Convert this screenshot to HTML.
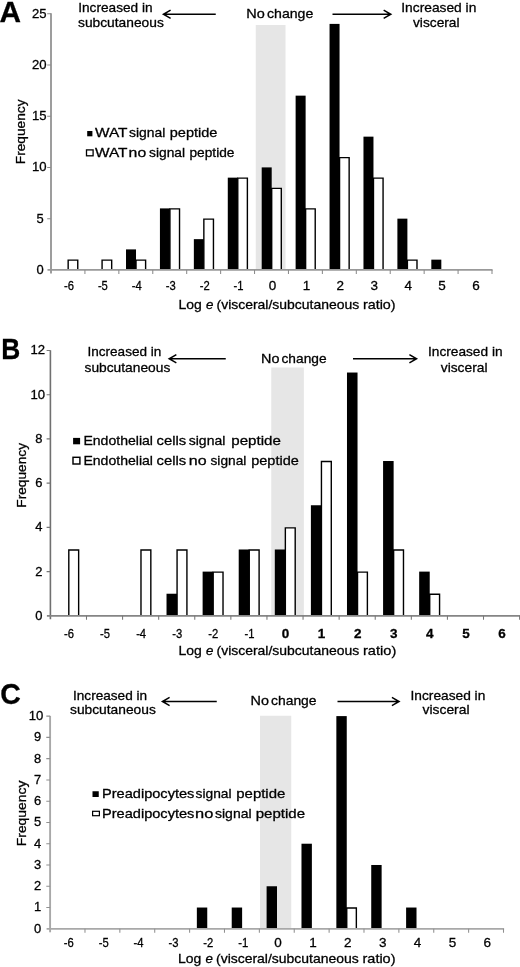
<!DOCTYPE html>
<html><head><meta charset="utf-8"><title>Figure</title>
<style>
html,body{margin:0;padding:0;background:#fff;}
text{stroke:#000;stroke-width:0.3px;}
svg{display:block;will-change:transform;filter:grayscale(1);font-family:"Liberation Sans", sans-serif;fill:#000;}
</style></head><body>
<svg width="520" height="967" viewBox="0 0 520 967">
<rect width="520" height="967" fill="#fff"/>
<rect x="255.75" y="25" width="29.75" height="244.89999999999998" fill="#e6e6e6"/>
<path d="M68.16 269.9V260.15H77.76V269.9" fill="#fff" stroke="#000" stroke-width="1.4"/>
<path d="M102.08 269.9V260.15H111.68V269.9" fill="#fff" stroke="#000" stroke-width="1.4"/>
<path d="M136.01 269.9V260.15H145.61V269.9" fill="#fff" stroke="#000" stroke-width="1.4"/>
<rect x="126.01" y="249.40" width="10.00" height="20.50" fill="#000"/>
<path d="M169.93 269.9V208.90H179.53V269.9" fill="#fff" stroke="#000" stroke-width="1.4"/>
<rect x="159.93" y="208.40" width="10.00" height="61.50" fill="#000"/>
<path d="M203.85 269.9V219.15H213.45V269.9" fill="#fff" stroke="#000" stroke-width="1.4"/>
<rect x="193.85" y="239.15" width="10.00" height="30.75" fill="#000"/>
<path d="M237.78 269.9V178.15H247.38V269.9" fill="#fff" stroke="#000" stroke-width="1.4"/>
<rect x="227.78" y="177.65" width="10.00" height="92.25" fill="#000"/>
<path d="M271.70 269.9V188.40H281.30V269.9" fill="#fff" stroke="#000" stroke-width="1.4"/>
<rect x="261.70" y="167.40" width="10.00" height="102.50" fill="#000"/>
<path d="M305.62 269.9V208.90H315.22V269.9" fill="#fff" stroke="#000" stroke-width="1.4"/>
<rect x="295.62" y="95.65" width="10.00" height="174.25" fill="#000"/>
<path d="M339.55 269.9V157.65H349.15V269.9" fill="#fff" stroke="#000" stroke-width="1.4"/>
<rect x="329.55" y="23.90" width="10.00" height="246.00" fill="#000"/>
<path d="M373.47 269.9V178.15H383.07V269.9" fill="#fff" stroke="#000" stroke-width="1.4"/>
<rect x="363.47" y="136.65" width="10.00" height="133.25" fill="#000"/>
<path d="M407.39 269.9V260.15H416.99V269.9" fill="#fff" stroke="#000" stroke-width="1.4"/>
<rect x="397.39" y="218.65" width="10.00" height="51.25" fill="#000"/>
<rect x="431.32" y="259.65" width="10.00" height="10.25" fill="#000"/>
<path d="M51 13.2V273.4" fill="none" stroke="#858585" stroke-width="1.6"/>
<path d="M47.5 269.9H492.6" fill="none" stroke="#999" stroke-width="1.7"/>
<path d="M47.2 218.65H51M47.2 167.40H51M47.2 116.15H51M47.2 64.90H51M47.2 13.65H51M84.92 269.9V273.9M118.85 269.9V273.9M152.77 269.9V273.9M186.69 269.9V273.9M220.62 269.9V273.9M254.54 269.9V273.9M288.46 269.9V273.9M322.38 269.9V273.9M356.31 269.9V273.9M390.23 269.9V273.9M424.15 269.9V273.9M458.08 269.9V273.9M492.00 269.9V273.9" fill="none" stroke="#8c8c8c" stroke-width="1.05"/>
<text x="40.2" y="273.80" font-size="13.5" text-anchor="middle" textLength="7.2" lengthAdjust="spacingAndGlyphs">0</text>
<text x="40.2" y="222.55" font-size="13.5" text-anchor="middle" textLength="7.2" lengthAdjust="spacingAndGlyphs">5</text>
<text x="39.2" y="171.30" font-size="13.5" text-anchor="middle" textLength="14.6" lengthAdjust="spacingAndGlyphs">10</text>
<text x="39.2" y="120.05" font-size="13.5" text-anchor="middle" textLength="14.6" lengthAdjust="spacingAndGlyphs">15</text>
<text x="39.2" y="68.80" font-size="13.5" text-anchor="middle" textLength="14.6" lengthAdjust="spacingAndGlyphs">20</text>
<text x="39.2" y="17.55" font-size="13.5" text-anchor="middle" textLength="14.6" lengthAdjust="spacingAndGlyphs">25</text>
<text x="68.96" y="289.9" font-size="13.5" text-anchor="middle" textLength="10" lengthAdjust="spacingAndGlyphs">-6</text>
<text x="102.88" y="289.9" font-size="13.5" text-anchor="middle" textLength="10" lengthAdjust="spacingAndGlyphs">-5</text>
<text x="136.81" y="289.9" font-size="13.5" text-anchor="middle" textLength="10" lengthAdjust="spacingAndGlyphs">-4</text>
<text x="170.73" y="289.9" font-size="13.5" text-anchor="middle" textLength="10" lengthAdjust="spacingAndGlyphs">-3</text>
<text x="204.65" y="289.9" font-size="13.5" text-anchor="middle" textLength="10" lengthAdjust="spacingAndGlyphs">-2</text>
<text x="238.58" y="289.9" font-size="13.5" text-anchor="middle" textLength="10" lengthAdjust="spacingAndGlyphs">-1</text>
<text x="272.50" y="289.9" font-size="13.5" text-anchor="middle" textLength="7.5" lengthAdjust="spacingAndGlyphs">0</text>
<text x="306.42" y="289.9" font-size="13.5" text-anchor="middle" textLength="7.5" lengthAdjust="spacingAndGlyphs">1</text>
<text x="340.35" y="289.9" font-size="13.5" text-anchor="middle" textLength="7.5" lengthAdjust="spacingAndGlyphs">2</text>
<text x="374.27" y="289.9" font-size="13.5" text-anchor="middle" textLength="7.5" lengthAdjust="spacingAndGlyphs">3</text>
<text x="408.19" y="289.9" font-size="13.5" text-anchor="middle" textLength="7.5" lengthAdjust="spacingAndGlyphs">4</text>
<text x="442.12" y="289.9" font-size="13.5" text-anchor="middle" textLength="7.5" lengthAdjust="spacingAndGlyphs">5</text>
<text x="476.04" y="289.9" font-size="13.5" text-anchor="middle" textLength="7.5" lengthAdjust="spacingAndGlyphs">6</text>
<text x="178.4" y="309" font-size="13.5" textLength="23.3" lengthAdjust="spacingAndGlyphs">Log</text>
<text x="205.9" y="309" font-size="13.5" textLength="7.4" lengthAdjust="spacingAndGlyphs" font-style="italic">e</text>
<text x="216.5" y="309" font-size="13.5" textLength="142.75" lengthAdjust="spacingAndGlyphs">(visceral/subcutaneous</text>
<text x="363.0" y="309" font-size="13.5" textLength="32.60000000000002" lengthAdjust="spacingAndGlyphs">ratio)</text>
<text transform="translate(25.1 164.2) rotate(-90)" font-size="13.5" textLength="64.79999999999998" lengthAdjust="spacingAndGlyphs">Frequency</text>
<text x="-0.5" y="22.3" font-size="29.5" textLength="21.5" lengthAdjust="spacingAndGlyphs" font-weight="bold">A</text>
<text x="78.25" y="12" font-size="13.5" textLength="74.3" lengthAdjust="spacingAndGlyphs">Increased in</text>
<text x="78" y="27" font-size="13.5" textLength="85.8" lengthAdjust="spacingAndGlyphs">subcutaneous</text>
<text x="401.25" y="12" font-size="13.5" textLength="75.05" lengthAdjust="spacingAndGlyphs">Increased in</text>
<text x="413" y="27" font-size="13.5" textLength="46.55" lengthAdjust="spacingAndGlyphs">visceral</text>
<text x="246.3" y="18" font-size="13.5" textLength="18.5" lengthAdjust="spacingAndGlyphs">No</text>
<text x="267" y="18" font-size="13.5" textLength="46.3" lengthAdjust="spacingAndGlyphs">change</text>
<text x="95.0" y="137" font-size="13.5" textLength="32.5" lengthAdjust="spacingAndGlyphs">WAT</text>
<text x="129" y="137" font-size="13.5" textLength="36.3" lengthAdjust="spacingAndGlyphs">signal</text>
<text x="169.75" y="137" font-size="13.5" textLength="47.65" lengthAdjust="spacingAndGlyphs">peptide</text>
<text x="95.0" y="156.6" font-size="13.5" textLength="32.5" lengthAdjust="spacingAndGlyphs">WAT</text>
<text x="128.6" y="156.6" font-size="13.5" textLength="17.6" lengthAdjust="spacingAndGlyphs">no</text>
<text x="149" y="156.6" font-size="13.5" textLength="36.05" lengthAdjust="spacingAndGlyphs">signal</text>
<text x="189.5" y="156.6" font-size="13.5" textLength="44.9" lengthAdjust="spacingAndGlyphs">peptide</text>
<path d="M215.75 14.25H163M170.6 10.15L163.4 14.25L170.6 18.35" fill="none" stroke="#000" stroke-width="1.45"/>
<path d="M332.5 14.25H391.25M383.65 10.15L390.85 14.25L383.65 18.35" fill="none" stroke="#000" stroke-width="1.45"/>
<rect x="87.2" y="131" width="5.2" height="5.3" fill="#000"/>
<rect x="86.5" y="149.9" width="6.6" height="5.9" fill="#fff" stroke="#000" stroke-width="1.3"/>
<rect x="271.25" y="367.5" width="32.60000000000002" height="248.35000000000002" fill="#e6e6e6"/>
<path d="M68.80 615.85V549.99H78.65V615.85" fill="#fff" stroke="#000" stroke-width="1.4"/>
<path d="M140.98 615.85V549.99H150.83V615.85" fill="#fff" stroke="#000" stroke-width="1.4"/>
<path d="M177.07 615.85V549.99H186.92V615.85" fill="#fff" stroke="#000" stroke-width="1.4"/>
<rect x="166.52" y="593.73" width="10.55" height="22.12" fill="#000"/>
<path d="M213.17 615.85V572.11H223.02V615.85" fill="#fff" stroke="#000" stroke-width="1.4"/>
<rect x="202.62" y="571.61" width="10.55" height="44.24" fill="#000"/>
<path d="M249.26 615.85V549.99H259.11V615.85" fill="#fff" stroke="#000" stroke-width="1.4"/>
<rect x="238.71" y="549.49" width="10.55" height="66.36" fill="#000"/>
<path d="M285.35 615.85V527.87H295.20V615.85" fill="#fff" stroke="#000" stroke-width="1.4"/>
<rect x="274.80" y="549.49" width="10.55" height="66.36" fill="#000"/>
<path d="M321.44 615.85V461.51H331.29V615.85" fill="#fff" stroke="#000" stroke-width="1.4"/>
<rect x="310.89" y="505.25" width="10.55" height="110.60" fill="#000"/>
<path d="M357.53 615.85V572.11H367.38V615.85" fill="#fff" stroke="#000" stroke-width="1.4"/>
<rect x="346.98" y="372.53" width="10.55" height="243.32" fill="#000"/>
<path d="M393.63 615.85V549.99H403.48V615.85" fill="#fff" stroke="#000" stroke-width="1.4"/>
<rect x="383.08" y="461.01" width="10.55" height="154.84" fill="#000"/>
<path d="M429.72 615.85V594.23H439.57V615.85" fill="#fff" stroke="#000" stroke-width="1.4"/>
<rect x="419.17" y="571.61" width="10.55" height="44.24" fill="#000"/>
<path d="M50.4 350.2V619.35" fill="none" stroke="#707070" stroke-width="1.6"/>
<path d="M46.9 615.85H520.2" fill="none" stroke="#858585" stroke-width="1.7"/>
<path d="M46.6 571.61H50.4M46.6 527.37H50.4M46.6 483.13H50.4M46.6 438.89H50.4M46.6 394.65H50.4M46.6 350.41H50.4M86.49 615.85V619.85M122.58 615.85V619.85M158.68 615.85V619.85M194.77 615.85V619.85M230.86 615.85V619.85M266.95 615.85V619.85M303.05 615.85V619.85M339.14 615.85V619.85M375.23 615.85V619.85M411.32 615.85V619.85M447.42 615.85V619.85M483.51 615.85V619.85M519.60 615.85V619.85" fill="none" stroke="#777" stroke-width="1.05"/>
<text x="38.9" y="619.75" font-size="13.5" text-anchor="middle" textLength="7.2" lengthAdjust="spacingAndGlyphs">0</text>
<text x="38.9" y="575.51" font-size="13.5" text-anchor="middle" textLength="7.2" lengthAdjust="spacingAndGlyphs">2</text>
<text x="38.9" y="531.27" font-size="13.5" text-anchor="middle" textLength="7.2" lengthAdjust="spacingAndGlyphs">4</text>
<text x="38.9" y="487.03" font-size="13.5" text-anchor="middle" textLength="7.2" lengthAdjust="spacingAndGlyphs">6</text>
<text x="38.9" y="442.79" font-size="13.5" text-anchor="middle" textLength="7.2" lengthAdjust="spacingAndGlyphs">8</text>
<text x="37.7" y="398.55" font-size="13.5" text-anchor="middle" textLength="14.6" lengthAdjust="spacingAndGlyphs">10</text>
<text x="37.7" y="354.31" font-size="13.5" text-anchor="middle" textLength="14.6" lengthAdjust="spacingAndGlyphs">12</text>
<text x="68.95" y="638.2" font-size="13.5" text-anchor="middle" textLength="10" lengthAdjust="spacingAndGlyphs">-6</text>
<text x="105.04" y="638.2" font-size="13.5" text-anchor="middle" textLength="10" lengthAdjust="spacingAndGlyphs">-5</text>
<text x="141.13" y="638.2" font-size="13.5" text-anchor="middle" textLength="10" lengthAdjust="spacingAndGlyphs">-4</text>
<text x="177.22" y="638.2" font-size="13.5" text-anchor="middle" textLength="10" lengthAdjust="spacingAndGlyphs">-3</text>
<text x="213.32" y="638.2" font-size="13.5" text-anchor="middle" textLength="10" lengthAdjust="spacingAndGlyphs">-2</text>
<text x="249.41" y="638.2" font-size="13.5" text-anchor="middle" textLength="10" lengthAdjust="spacingAndGlyphs">-1</text>
<text x="285.50" y="638.2" font-size="13.5" text-anchor="middle" textLength="7.5" lengthAdjust="spacingAndGlyphs" font-weight="bold">0</text>
<text x="321.59" y="638.2" font-size="13.5" text-anchor="middle" textLength="7.5" lengthAdjust="spacingAndGlyphs" font-weight="bold">1</text>
<text x="357.68" y="638.2" font-size="13.5" text-anchor="middle" textLength="7.5" lengthAdjust="spacingAndGlyphs" font-weight="bold">2</text>
<text x="393.78" y="638.2" font-size="13.5" text-anchor="middle" textLength="7.5" lengthAdjust="spacingAndGlyphs" font-weight="bold">3</text>
<text x="429.87" y="638.2" font-size="13.5" text-anchor="middle" textLength="7.5" lengthAdjust="spacingAndGlyphs" font-weight="bold">4</text>
<text x="465.96" y="638.2" font-size="13.5" text-anchor="middle" textLength="7.5" lengthAdjust="spacingAndGlyphs" font-weight="bold">5</text>
<text x="502.05" y="638.2" font-size="13.5" text-anchor="middle" textLength="7.5" lengthAdjust="spacingAndGlyphs" font-weight="bold">6</text>
<text x="178.4" y="655" font-size="13.5" textLength="23.3" lengthAdjust="spacingAndGlyphs">Log</text>
<text x="205.9" y="655" font-size="13.5" textLength="7.4" lengthAdjust="spacingAndGlyphs" font-style="italic">e</text>
<text x="216.5" y="655" font-size="13.5" textLength="142.75" lengthAdjust="spacingAndGlyphs">(visceral/subcutaneous</text>
<text x="363.0" y="655" font-size="13.5" textLength="33.25" lengthAdjust="spacingAndGlyphs">ratio)</text>
<text transform="translate(25.5 507.7) rotate(-90)" font-size="13.5" textLength="64.69999999999999" lengthAdjust="spacingAndGlyphs">Frequency</text>
<text x="1.2" y="359" font-size="29.5" textLength="19" lengthAdjust="spacingAndGlyphs" font-weight="bold">B</text>
<text x="87.5" y="356.25" font-size="13.5" textLength="73.8" lengthAdjust="spacingAndGlyphs">Increased in</text>
<text x="84.5" y="371.75" font-size="13.5" textLength="85.8" lengthAdjust="spacingAndGlyphs">subcutaneous</text>
<text x="428" y="356.25" font-size="13.5" textLength="74.55" lengthAdjust="spacingAndGlyphs">Increased in</text>
<text x="440.75" y="371.75" font-size="13.5" textLength="46.8" lengthAdjust="spacingAndGlyphs">visceral</text>
<text x="261.0" y="362.5" font-size="13.5" textLength="18.4" lengthAdjust="spacingAndGlyphs">No</text>
<text x="281.5" y="362.5" font-size="13.5" textLength="45.05" lengthAdjust="spacingAndGlyphs">change</text>
<text x="83.4" y="444.5" font-size="13.5" textLength="69.6" lengthAdjust="spacingAndGlyphs">Endothelial</text>
<text x="156.6" y="444.5" font-size="13.5" textLength="29.6" lengthAdjust="spacingAndGlyphs">cells</text>
<text x="188.75" y="444.5" font-size="13.5" textLength="36.55" lengthAdjust="spacingAndGlyphs">signal</text>
<text x="231.25" y="444.5" font-size="13.5" textLength="49.55" lengthAdjust="spacingAndGlyphs">peptide</text>
<text x="83.4" y="465" font-size="13.5" textLength="69.6" lengthAdjust="spacingAndGlyphs">Endothelial</text>
<text x="156.6" y="465" font-size="13.5" textLength="29.6" lengthAdjust="spacingAndGlyphs">cells</text>
<text x="188.75" y="465" font-size="13.5" textLength="17.8" lengthAdjust="spacingAndGlyphs">no</text>
<text x="210.5" y="465" font-size="13.5" textLength="35.8" lengthAdjust="spacingAndGlyphs">signal</text>
<text x="251.25" y="465" font-size="13.5" textLength="47.55" lengthAdjust="spacingAndGlyphs">peptide</text>
<path d="M225.75 358.75H168.75M176.35 354.65L169.15 358.75L176.35 362.85" fill="none" stroke="#000" stroke-width="1.45"/>
<path d="M353 358.75H417M409.4 354.65L416.6 358.75L409.4 362.85" fill="none" stroke="#000" stroke-width="1.45"/>
<rect x="73.1" y="437.9" width="7" height="6.4" fill="#000"/>
<rect x="73.0" y="457.3" width="6.9" height="6.7" fill="#fff" stroke="#000" stroke-width="1.45"/>
<rect x="260" y="715.75" width="31.25" height="213.04999999999995" fill="#e6e6e6"/>
<rect x="196.85" y="907.53" width="10.40" height="21.27" fill="#000"/>
<rect x="231.72" y="907.53" width="10.40" height="21.27" fill="#000"/>
<rect x="266.60" y="886.26" width="10.40" height="42.54" fill="#000"/>
<rect x="301.48" y="843.72" width="10.40" height="85.08" fill="#000"/>
<path d="M346.75 928.8V908.03H356.35V928.8" fill="#fff" stroke="#000" stroke-width="1.4"/>
<rect x="336.35" y="716.10" width="10.40" height="212.70" fill="#000"/>
<rect x="371.23" y="864.99" width="10.40" height="63.81" fill="#000"/>
<rect x="406.11" y="907.53" width="10.40" height="21.27" fill="#000"/>
<path d="M50.1 715.9V932.3" fill="none" stroke="#a8a8a8" stroke-width="1.9"/>
<path d="M46.6 928.8H504.1" fill="none" stroke="#a8a8a8" stroke-width="1.7"/>
<path d="M46.300000000000004 907.53H50.1M46.300000000000004 886.26H50.1M46.300000000000004 864.99H50.1M46.300000000000004 843.72H50.1M46.300000000000004 822.45H50.1M46.300000000000004 801.18H50.1M46.300000000000004 779.91H50.1M46.300000000000004 758.64H50.1M46.300000000000004 737.37H50.1M46.300000000000004 716.10H50.1M84.98 928.8V932.8M119.85 928.8V932.8M154.73 928.8V932.8M189.61 928.8V932.8M224.48 928.8V932.8M259.36 928.8V932.8M294.24 928.8V932.8M329.12 928.8V932.8M363.99 928.8V932.8M398.87 928.8V932.8M433.75 928.8V932.8M468.62 928.8V932.8M503.50 928.8V932.8" fill="none" stroke="#909090" stroke-width="1.05"/>
<text x="37.5" y="932.70" font-size="13.5" text-anchor="middle" textLength="7.2" lengthAdjust="spacingAndGlyphs">0</text>
<text x="37.5" y="911.43" font-size="13.5" text-anchor="middle" textLength="7.2" lengthAdjust="spacingAndGlyphs">1</text>
<text x="37.5" y="890.16" font-size="13.5" text-anchor="middle" textLength="7.2" lengthAdjust="spacingAndGlyphs">2</text>
<text x="37.5" y="868.89" font-size="13.5" text-anchor="middle" textLength="7.2" lengthAdjust="spacingAndGlyphs">3</text>
<text x="37.5" y="847.62" font-size="13.5" text-anchor="middle" textLength="7.2" lengthAdjust="spacingAndGlyphs">4</text>
<text x="37.5" y="826.35" font-size="13.5" text-anchor="middle" textLength="7.2" lengthAdjust="spacingAndGlyphs">5</text>
<text x="37.5" y="805.08" font-size="13.5" text-anchor="middle" textLength="7.2" lengthAdjust="spacingAndGlyphs">6</text>
<text x="37.5" y="783.81" font-size="13.5" text-anchor="middle" textLength="7.2" lengthAdjust="spacingAndGlyphs">7</text>
<text x="37.5" y="762.54" font-size="13.5" text-anchor="middle" textLength="7.2" lengthAdjust="spacingAndGlyphs">8</text>
<text x="37.5" y="741.27" font-size="13.5" text-anchor="middle" textLength="7.2" lengthAdjust="spacingAndGlyphs">9</text>
<text x="36.1" y="720.00" font-size="13.5" text-anchor="middle" textLength="14.6" lengthAdjust="spacingAndGlyphs">10</text>
<text x="68.84" y="947.0" font-size="13.5" text-anchor="middle" textLength="10" lengthAdjust="spacingAndGlyphs">-6</text>
<text x="103.72" y="947.0" font-size="13.5" text-anchor="middle" textLength="10" lengthAdjust="spacingAndGlyphs">-5</text>
<text x="138.59" y="947.0" font-size="13.5" text-anchor="middle" textLength="10" lengthAdjust="spacingAndGlyphs">-4</text>
<text x="173.47" y="947.0" font-size="13.5" text-anchor="middle" textLength="10" lengthAdjust="spacingAndGlyphs">-3</text>
<text x="208.35" y="947.0" font-size="13.5" text-anchor="middle" textLength="10" lengthAdjust="spacingAndGlyphs">-2</text>
<text x="243.22" y="947.0" font-size="13.5" text-anchor="middle" textLength="10" lengthAdjust="spacingAndGlyphs">-1</text>
<text x="278.10" y="947.0" font-size="13.5" text-anchor="middle" textLength="7.5" lengthAdjust="spacingAndGlyphs">0</text>
<text x="312.98" y="947.0" font-size="13.5" text-anchor="middle" textLength="7.5" lengthAdjust="spacingAndGlyphs">1</text>
<text x="347.85" y="947.0" font-size="13.5" text-anchor="middle" textLength="7.5" lengthAdjust="spacingAndGlyphs">2</text>
<text x="382.73" y="947.0" font-size="13.5" text-anchor="middle" textLength="7.5" lengthAdjust="spacingAndGlyphs">3</text>
<text x="417.61" y="947.0" font-size="13.5" text-anchor="middle" textLength="7.5" lengthAdjust="spacingAndGlyphs">4</text>
<text x="452.48" y="947.0" font-size="13.5" text-anchor="middle" textLength="7.5" lengthAdjust="spacingAndGlyphs">5</text>
<text x="487.36" y="947.0" font-size="13.5" text-anchor="middle" textLength="7.5" lengthAdjust="spacingAndGlyphs">6</text>
<text x="177.9" y="963.25" font-size="13.5" textLength="23.3" lengthAdjust="spacingAndGlyphs">Log</text>
<text x="205.4" y="963.25" font-size="13.5" textLength="7.4" lengthAdjust="spacingAndGlyphs" font-style="italic">e</text>
<text x="216.0" y="963.25" font-size="13.5" textLength="142.75" lengthAdjust="spacingAndGlyphs">(visceral/subcutaneous</text>
<text x="362.5" y="963.25" font-size="13.5" textLength="33.0" lengthAdjust="spacingAndGlyphs">ratio)</text>
<text transform="translate(25.5 846.2) rotate(-90)" font-size="13.5" textLength="65.60000000000002" lengthAdjust="spacingAndGlyphs">Frequency</text>
<text x="0.3" y="704" font-size="29.5" textLength="20.5" lengthAdjust="spacingAndGlyphs" font-weight="bold">C</text>
<text x="73" y="699.5" font-size="13.5" textLength="74.05" lengthAdjust="spacingAndGlyphs">Increased in</text>
<text x="70" y="714.25" font-size="13.5" textLength="85.8" lengthAdjust="spacingAndGlyphs">subcutaneous</text>
<text x="410.5" y="699.5" font-size="13.5" textLength="74.8" lengthAdjust="spacingAndGlyphs">Increased in</text>
<text x="422.5" y="714.25" font-size="13.5" textLength="47.05" lengthAdjust="spacingAndGlyphs">visceral</text>
<text x="250.5" y="705" font-size="13.5" textLength="18.4" lengthAdjust="spacingAndGlyphs">No</text>
<text x="271" y="705" font-size="13.5" textLength="45.55" lengthAdjust="spacingAndGlyphs">change</text>
<text x="102" y="797.5" font-size="13.5" textLength="92.4" lengthAdjust="spacingAndGlyphs">Preadipocytes</text>
<text x="195.5" y="797.5" font-size="13.5" textLength="36.05" lengthAdjust="spacingAndGlyphs">signal</text>
<text x="236.25" y="797.5" font-size="13.5" textLength="49.05" lengthAdjust="spacingAndGlyphs">peptide</text>
<text x="102" y="818" font-size="13.5" textLength="92.4" lengthAdjust="spacingAndGlyphs">Preadipocytes</text>
<text x="195" y="818" font-size="13.5" textLength="18.3" lengthAdjust="spacingAndGlyphs">no</text>
<text x="215" y="818" font-size="13.5" textLength="36.55" lengthAdjust="spacingAndGlyphs">signal</text>
<text x="255.75" y="818" font-size="13.5" textLength="49.3" lengthAdjust="spacingAndGlyphs">peptide</text>
<path d="M216.75 701.5H162M169.6 697.4L162.4 701.5L169.6 705.6" fill="none" stroke="#000" stroke-width="1.45"/>
<path d="M337.5 701.5H399.5M391.9 697.4L399.1 701.5L391.9 705.6" fill="none" stroke="#000" stroke-width="1.45"/>
<rect x="92.5" y="791.25" width="6.25" height="5.75" fill="#000"/>
<rect x="92.6" y="811.3" width="6.8" height="4.4" fill="#fff" stroke="#000" stroke-width="1.2"/>
</svg>
</body></html>
